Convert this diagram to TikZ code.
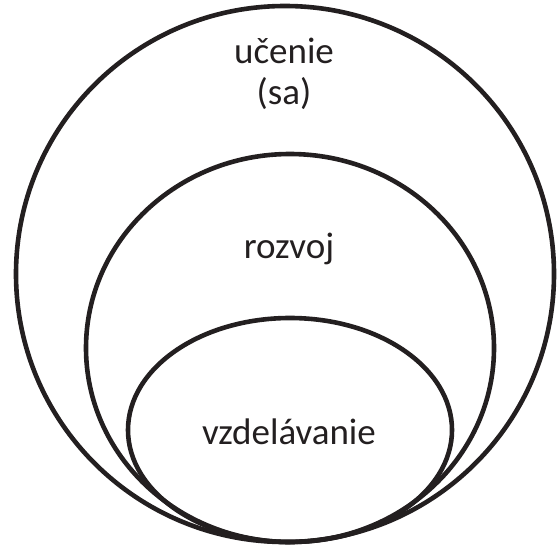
\documentclass[tikz,border=0pt]{standalone}
\usepackage{fontspec}
\setmainfont{Carlito}
\usetikzlibrary{positioning}

\definecolor{ink}{HTML}{231F20}

\begin{document}
\begin{tikzpicture}[x=1pt,y=-1pt]

\useasboundingbox (0,0) rectangle (557,546);

\tikzset{ring/.style={draw=ink,line width=4.6pt}, lbl/.style={anchor=base,text=ink,font=\fontsize{37}{40}\selectfont}}

\draw[ring] (285,274) ellipse [x radius=269, y radius=268];
\draw[ring] (290,348) ellipse [x radius=204, y radius=194];
\draw[ring] (290,430) ellipse [x radius=162, y radius=112];

\node[lbl] (ucenie) at (284,63) {učenie};
\node[lbl] (sa) at (284,104) {(sa)};
\node[lbl] (rozvoj) at (289,258) {rozvoj};
\node[lbl] (vzdel) at (289,444) {vzdelávanie};

\end{tikzpicture}
\end{document}
